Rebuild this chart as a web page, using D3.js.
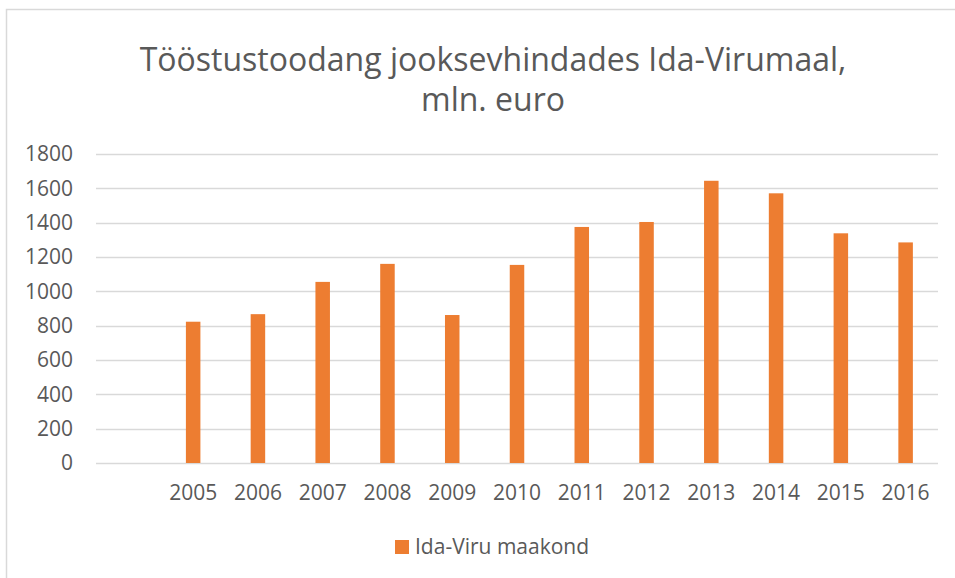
<!DOCTYPE html>
<html>
<head>
<meta charset="utf-8">
<script src="https://cdn.jsdelivr.net/npm/d3@7"></script>
<style>
  body { margin: 0; background: #fff; }
  text { font-family: "Open Sans", sans-serif; fill: #595959; }
</style>
</head>
<body>
<div id="chart"></div>
<script>
"use strict";

// first slot is an empty category (Excel left a blank row)
let years = ["", "2005", "2006", "2007", "2008", "2009", "2010", "2011", "2012", "2013", "2014", "2015", "2016"];
let values = [null, 823, 867, 1055, 1160, 862, 1154, 1375, 1404, 1644, 1571, 1338, 1285];
let y_ticks = [0, 200, 400, 600, 800, 1000, 1200, 1400, 1600, 1800];
let title_lines = ["Tööstustoodang jooksevhindades Ida-Virumaal,", "mln. euro"];
let series_name = "Ida-Viru maakond";

let width = 955, height = 578;
let bar_color = "#ED7D31";
let grid_color = "#D9D9D9";

let svg = d3.select("#chart").append("svg").attr("width", width).attr("height", height);

// chart frame (right and bottom edge fall outside the window)
svg.append("rect").attr("x", 6.5).attr("y", 9.5).attr("width", 990).attr("height", 600)
    .attr("fill", "#fff").attr("stroke", grid_color).attr("stroke-width", 1.5);

let x = d3.scaleBand().domain(years).range([96, 938]).padding(0);
let y = d3.scaleLinear().domain([0, 1800]).range([463, 154]);

// title
let title = svg.append("text").attr("text-anchor", "middle").style("font-size", "32px");
title_lines.forEach((t, i) => {
    title.append("tspan").attr("x", 493).attr("y", 71 + i * 40).text(t);
});

// gridlines
svg.append("g").selectAll("line").data(y_ticks).join("line")
    .attr("x1", 96).attr("x2", 938)
    .attr("y1", d => Math.round(y(d)) + 0.5).attr("y2", d => Math.round(y(d)) + 0.5)
    .attr("stroke", grid_color).attr("stroke-width", 1.5);

// y axis labels
let y_axis = svg.append("g").attr("transform", "translate(80,0)")
    .call(d3.axisLeft(y).tickValues(y_ticks).tickFormat(d3.format("d")).tickSize(0).tickPadding(7));
y_axis.select(".domain").remove();
y_axis.selectAll("text").style("font-size", "21px").style("font-family", null);

// x axis labels
let x_axis = svg.append("g").attr("transform", "translate(0,463)")
    .call(d3.axisBottom(x).tickSize(0).tickPadding(22));
x_axis.select(".domain").remove();
x_axis.selectAll("text").style("font-size", "21px").style("font-family", null);

// bars
let bar_w = x.bandwidth() * 0.224;
svg.append("g").selectAll("rect")
    .data(years.map((yr, i) => ({yr: yr, v: values[i]})).filter(d => d.v != null))
    .join("rect")
    .attr("x", d => x(d.yr) + (x.bandwidth() - bar_w) / 2)
    .attr("y", d => y(d.v))
    .attr("width", bar_w)
    .attr("height", d => y(0) - y(d.v))
    .attr("fill", bar_color);

// legend
let legend = svg.append("g").attr("transform", "translate(395,540)");
legend.append("rect").attr("width", 14).attr("height", 14).attr("fill", bar_color);
legend.append("text").attr("x", 20).attr("y", 14).style("font-size", "21px").text(series_name);
</script>
</body>
</html>
